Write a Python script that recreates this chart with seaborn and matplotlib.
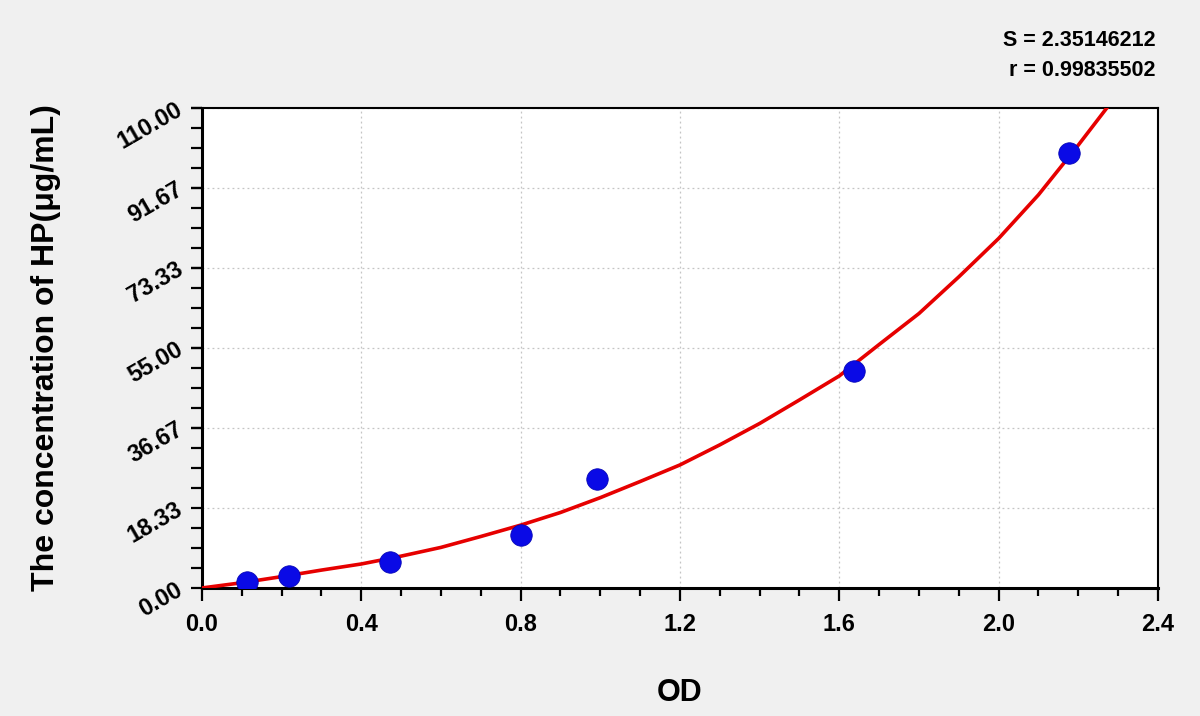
import seaborn as sns
import matplotlib.pyplot as plt
from matplotlib.ticker import AutoMinorLocator, FixedLocator

# Puntos medidos (OD vs concentracion)
od = [0.112, 0.219, 0.471, 0.800, 0.992, 1.637, 2.177]
conc = [1.4, 2.8, 6.0, 12.2, 24.9, 49.7, 99.7]

# Curva ajustada
curva_od = [0.0, 0.1, 0.2, 0.3, 0.4, 0.5, 0.6, 0.7, 0.8, 0.9, 1.0, 1.1, 1.2,
            1.3, 1.4, 1.5, 1.6, 1.7, 1.8, 1.9, 2.0, 2.1, 2.2, 2.274]
curva_conc = [0.0, 1.2, 2.6, 4.1, 5.5, 7.3, 9.3, 11.8, 14.4, 17.3, 20.7, 24.4, 28.2,
              32.8, 37.7, 43.1, 48.6, 55.8, 62.9, 71.3, 80.1, 90.1, 101.5, 110.3]

y_ticks = [0.00, 18.33, 36.67, 55.00, 73.33, 91.67, 110.00]
x_ticks = [0.0, 0.4, 0.8, 1.2, 1.6, 2.0, 2.4]

sns.set_theme(style="white")
plt.rcParams['font.family'] = ['Liberation Sans', 'DejaVu Sans']
plt.rcParams['text.color'] = 'black'
plt.rcParams['axes.labelcolor'] = 'black'

fig = plt.figure(figsize=(12, 7.16), dpi=100, facecolor="#f0f0f0")
ax = fig.add_axes([0.1683, 0.1788, 0.7967, 0.6704])
ax.set_facecolor("white")

sns.lineplot(x=curva_od, y=curva_conc, ax=ax, color="#e60000", linewidth=2.6,
             sort=False, zorder=3)
sns.scatterplot(x=od, y=conc, ax=ax, color="#0a0ae6", s=240, edgecolor="#0000b0",
                linewidth=0.5, zorder=4)

ax.set_xlim(0, 2.4)
ax.set_ylim(0, 110)
ax.xaxis.set_major_locator(FixedLocator(x_ticks))
ax.yaxis.set_major_locator(FixedLocator(y_ticks))
ax.xaxis.set_minor_locator(AutoMinorLocator(4))
ax.yaxis.set_minor_locator(AutoMinorLocator(4))
ax.set_xticklabels([f"{v:.1f}" for v in x_ticks], fontsize=17, fontweight="bold",
                   color="black")
ax.set_yticklabels([f"{v:.2f}" for v in y_ticks], fontsize=17, fontweight="bold",
                   color="black", rotation=30, ha="right", va="center",
                   rotation_mode="anchor")

ax.tick_params(axis="x", which="major", direction="out", length=9, width=1.6,
               bottom=True, pad=9, color="black")
ax.tick_params(axis="x", which="minor", direction="out", length=6, width=1.6,
               bottom=True, color="black")
ax.tick_params(axis="y", which="major", direction="out", length=8, width=1.6,
               left=True, pad=7, color="black")
ax.tick_params(axis="y", which="minor", direction="out", length=8, width=1.6,
               left=True, color="black")

ax.grid(True, which="major", linestyle=(0, (1.5, 2.5)), color="#c4c4c4", linewidth=0.9)

for lado in ["left", "bottom"]:
    ax.spines[lado].set_linewidth(2.2)
    ax.spines[lado].set_color("black")
for lado in ["top", "right"]:
    ax.spines[lado].set_linewidth(1.5)
    ax.spines[lado].set_color("black")

ax.set_xlabel("OD", fontsize=22, fontweight="bold", labelpad=30)
ax.set_ylabel("The concentration of HP(μg/mL)", fontsize=23, fontweight="bold",
              labelpad=38)

fig.text(0.963, 0.944, "S = 2.35146212", ha="right", va="center", fontsize=15.5,
         fontweight="bold")
fig.text(0.963, 0.902, "r = 0.99835502", ha="right", va="center", fontsize=15.5,
         fontweight="bold")

plt.savefig("out.png", dpi=100, facecolor=fig.get_facecolor())
